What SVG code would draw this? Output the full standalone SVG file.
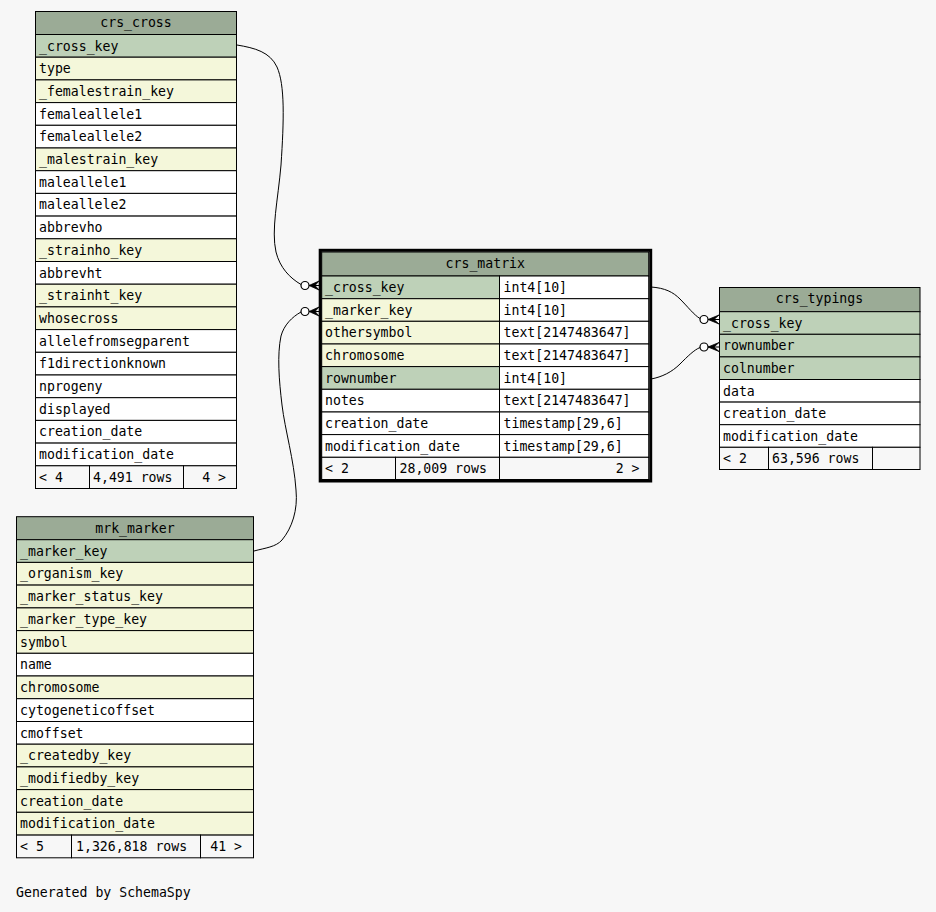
<svg xmlns="http://www.w3.org/2000/svg" width="936" height="912" viewBox="0 0 936 912">
<style>
rect{stroke:#000;stroke-width:1}
.h{fill:#9bab96}.p{fill:#bed1b8}.k{fill:#f4f7da}.w{fill:#ffffff}.f{fill:#f7f7f7}
text{font-family:"DejaVu Sans Mono","Liberation Mono",monospace;font-size:13.2px;fill:#000}
.m{text-anchor:middle}.e{text-anchor:end}
.cn{fill:none;stroke:#000;stroke-width:1}
.o{fill:#fff;stroke:#000;stroke-width:1.2}
.cr{fill:#000;stroke:#000;stroke-width:0.8}
</style>
<rect x="0" y="0" width="936" height="912" style="fill:#f7f7f7;stroke:none"/>

<g id="connectors">
<path class="cn" d="M237,45 C255,48 270,52 277,67 C285,85 284,120 281,165 C278,200 271,230 276,252 C280,268 290,278 301,284.5"/>
<circle class="o" cx="305" cy="285.5" r="4"/>
<polygon class="cr" points="309,285.5 319,281 315,285.5 319,290"/>
<line class="cn" x1="309" y1="285.5" x2="319" y2="285.5"/>

<path class="cn" d="M254,551 C265,548 276,547 282,540 C292,528 298,510 296,490 C294,460 285,430 282,405 C279,380 277,355 281,336 C284,325 292,317 301,312"/>
<circle class="o" cx="305" cy="311.5" r="4"/>
<polygon class="cr" points="309,311.5 319,307 315,311.5 319,316"/>
<line class="cn" x1="309" y1="311.5" x2="319" y2="311.5"/>

<path class="cn" d="M651,287 C665,288 673,292 680,299 C688,307 694,315 700,318.5"/>
<circle class="o" cx="704" cy="319.5" r="4"/>
<polygon class="cr" points="708,319.5 719,315 714,319.5 719,324"/>
<line class="cn" x1="708" y1="319.5" x2="719" y2="319.5"/>

<path class="cn" d="M651,379 C662,377 672,372 680,364 C688,356 694,350 700,347.5"/>
<circle class="o" cx="704" cy="347" r="4"/>
<polygon class="cr" points="708,347 719,342.5 714,347 719,351.5"/>
<line class="cn" x1="708" y1="347" x2="719" y2="347"/>
</g>

<g id="crs_cross">
<rect class="h" x="35.5" y="11.5" width="201" height="23"/>
<rect class="p" x="35.5" y="34.5" width="201" height="22.7"/>
<rect class="k" x="35.5" y="57.2" width="201" height="22.7"/>
<rect class="k" x="35.5" y="79.9" width="201" height="22.7"/>
<rect class="w" x="35.5" y="102.6" width="201" height="22.7"/>
<rect class="w" x="35.5" y="125.3" width="201" height="22.7"/>
<rect class="k" x="35.5" y="148.0" width="201" height="22.7"/>
<rect class="w" x="35.5" y="170.7" width="201" height="22.7"/>
<rect class="w" x="35.5" y="193.4" width="201" height="22.7"/>
<rect class="w" x="35.5" y="216.1" width="201" height="22.7"/>
<rect class="k" x="35.5" y="238.8" width="201" height="22.7"/>
<rect class="w" x="35.5" y="261.5" width="201" height="22.7"/>
<rect class="k" x="35.5" y="284.2" width="201" height="22.7"/>
<rect class="k" x="35.5" y="306.9" width="201" height="22.7"/>
<rect class="w" x="35.5" y="329.6" width="201" height="22.7"/>
<rect class="w" x="35.5" y="352.3" width="201" height="22.7"/>
<rect class="w" x="35.5" y="375.0" width="201" height="22.7"/>
<rect class="w" x="35.5" y="397.7" width="201" height="22.7"/>
<rect class="w" x="35.5" y="420.4" width="201" height="22.7"/>
<rect class="w" x="35.5" y="443.1" width="201" height="22.7"/>
<rect class="f" x="35.5" y="465.8" width="54" height="22.7"/>
<rect class="f" x="89.5" y="465.8" width="94" height="22.7"/>
<rect class="f" x="183.5" y="465.8" width="53" height="22.7"/>
<text class="m" x="136" y="27">crs_cross</text>
<text x="39" y="50.5">_cross_key</text>
<text x="39" y="73.2">type</text>
<text x="39" y="95.9">_femalestrain_key</text>
<text x="39" y="118.6">femaleallele1</text>
<text x="39" y="141.3">femaleallele2</text>
<text x="39" y="164.0">_malestrain_key</text>
<text x="39" y="186.7">maleallele1</text>
<text x="39" y="209.4">maleallele2</text>
<text x="39" y="232.1">abbrevho</text>
<text x="39" y="254.8">_strainho_key</text>
<text x="39" y="277.5">abbrevht</text>
<text x="39" y="300.2">_strainht_key</text>
<text x="39" y="322.9">whosecross</text>
<text x="39" y="345.6">allelefromsegparent</text>
<text x="39" y="368.3">f1directionknown</text>
<text x="39" y="391.0">nprogeny</text>
<text x="39" y="413.7">displayed</text>
<text x="39" y="436.4">creation_date</text>
<text x="39" y="459.1">modification_date</text>
<text x="39" y="481.8">&lt; 4</text>
<text x="93" y="481.8">4,491 rows</text>
<text class="e" x="226" y="481.8">4 &gt;</text>
</g>

<g id="mrk_marker">
<rect class="h" x="16.5" y="516.7" width="237" height="23"/>
<rect class="p" x="16.5" y="539.7" width="237" height="22.7"/>
<rect class="k" x="16.5" y="562.4" width="237" height="22.7"/>
<rect class="k" x="16.5" y="585.1" width="237" height="22.8"/>
<rect class="k" x="16.5" y="607.9" width="237" height="22.7"/>
<rect class="k" x="16.5" y="630.6" width="237" height="22.7"/>
<rect class="w" x="16.5" y="653.3" width="237" height="22.7"/>
<rect class="k" x="16.5" y="676.0" width="237" height="22.7"/>
<rect class="w" x="16.5" y="698.7" width="237" height="22.8"/>
<rect class="w" x="16.5" y="721.5" width="237" height="22.7"/>
<rect class="k" x="16.5" y="744.2" width="237" height="22.7"/>
<rect class="k" x="16.5" y="766.9" width="237" height="22.7"/>
<rect class="k" x="16.5" y="789.6" width="237" height="22.7"/>
<rect class="k" x="16.5" y="812.3" width="237" height="22.8"/>
<rect class="f" x="16.5" y="835.1" width="55" height="22.7"/>
<rect class="f" x="71.5" y="835.1" width="129" height="22.7"/>
<rect class="f" x="200.5" y="835.1" width="53" height="22.7"/>
<text class="m" x="135" y="532.5">mrk_marker</text>
<text x="20" y="555.7">_marker_key</text>
<text x="20" y="578.4">_organism_key</text>
<text x="20" y="601.1">_marker_status_key</text>
<text x="20" y="623.9">_marker_type_key</text>
<text x="20" y="646.6">symbol</text>
<text x="20" y="669.3">name</text>
<text x="20" y="692.0">chromosome</text>
<text x="20" y="714.7">cytogeneticoffset</text>
<text x="20" y="737.5">cmoffset</text>
<text x="20" y="760.2">_createdby_key</text>
<text x="20" y="782.9">_modifiedby_key</text>
<text x="20" y="805.6">creation_date</text>
<text x="20" y="828.3">modification_date</text>
<text x="20" y="851.1">&lt; 5</text>
<text x="76" y="851.1">1,326,818 rows</text>
<text class="e" x="242" y="851.1">41 &gt;</text>
</g>

<g id="crs_matrix">
<rect class="h" x="321.7" y="252" width="327" height="24"/>
<rect class="p" x="321.7" y="276" width="177.8" height="22.7"/>
<rect class="w" x="499.5" y="276" width="149.2" height="22.7"/>
<rect class="k" x="321.7" y="298.7" width="177.8" height="22.6"/>
<rect class="w" x="499.5" y="298.7" width="149.2" height="22.6"/>
<rect class="k" x="321.7" y="321.3" width="177.8" height="22.7"/>
<rect class="w" x="499.5" y="321.3" width="149.2" height="22.7"/>
<rect class="k" x="321.7" y="344.0" width="177.8" height="22.6"/>
<rect class="w" x="499.5" y="344.0" width="149.2" height="22.6"/>
<rect class="p" x="321.7" y="366.6" width="177.8" height="22.7"/>
<rect class="w" x="499.5" y="366.6" width="149.2" height="22.7"/>
<rect class="w" x="321.7" y="389.3" width="177.8" height="22.7"/>
<rect class="w" x="499.5" y="389.3" width="149.2" height="22.7"/>
<rect class="w" x="321.7" y="412.0" width="177.8" height="22.6"/>
<rect class="w" x="499.5" y="412.0" width="149.2" height="22.6"/>
<rect class="w" x="321.7" y="434.6" width="177.8" height="22.7"/>
<rect class="w" x="499.5" y="434.6" width="149.2" height="22.7"/>
<rect class="f" x="321.7" y="457.3" width="73.8" height="22.2"/>
<rect class="f" x="395.5" y="457.3" width="104" height="22.2"/>
<rect class="f" x="499.5" y="457.3" width="149.2" height="22.2"/>
<rect x="320.2" y="250.3" width="330.5" height="230.7" style="fill:none;stroke-width:3"/>
<text class="m" x="485.3" y="268">crs_matrix</text>
<text x="325" y="292">_cross_key</text>
<text x="503.5" y="292">int4[10]</text>
<text x="325" y="314.7">_marker_key</text>
<text x="503.5" y="314.7">int4[10]</text>
<text x="325" y="337.3">othersymbol</text>
<text x="503.5" y="337.3">text[2147483647]</text>
<text x="325" y="360.0">chromosome</text>
<text x="503.5" y="360.0">text[2147483647]</text>
<text x="325" y="382.6">rownumber</text>
<text x="503.5" y="382.6">int4[10]</text>
<text x="325" y="405.3">notes</text>
<text x="503.5" y="405.3">text[2147483647]</text>
<text x="325" y="428.0">creation_date</text>
<text x="503.5" y="428.0">timestamp[29,6]</text>
<text x="325" y="450.6">modification_date</text>
<text x="503.5" y="450.6">timestamp[29,6]</text>
<text x="325" y="473.3">&lt; 2</text>
<text x="399.5" y="473.3">28,009 rows</text>
<text class="e" x="639.5" y="473.3">2 &gt;</text>
</g>

<g id="crs_typings">
<rect class="h" x="719.5" y="287.5" width="200.5" height="24.2"/>
<rect class="p" x="719.5" y="311.7" width="200.5" height="22.6"/>
<rect class="p" x="719.5" y="334.3" width="200.5" height="22.6"/>
<rect class="p" x="719.5" y="356.9" width="200.5" height="22.6"/>
<rect class="w" x="719.5" y="379.5" width="200.5" height="22.6"/>
<rect class="w" x="719.5" y="402.1" width="200.5" height="22.6"/>
<rect class="w" x="719.5" y="424.7" width="200.5" height="22.6"/>
<rect class="f" x="719.5" y="447.3" width="49" height="22.2"/>
<rect class="f" x="768.5" y="447.3" width="104" height="22.2"/>
<rect class="f" x="872.5" y="447.3" width="47.5" height="22.2"/>
<text class="m" x="819.5" y="303.3">crs_typings</text>
<text x="723" y="327.7">_cross_key</text>
<text x="723" y="350.3">rownumber</text>
<text x="723" y="372.9">colnumber</text>
<text x="723" y="395.5">data</text>
<text x="723" y="418.1">creation_date</text>
<text x="723" y="440.7">modification_date</text>
<text x="723" y="463.3">&lt; 2</text>
<text x="772" y="463.3">63,596 rows</text>
</g>

<text x="16" y="897">Generated by SchemaSpy</text>
</svg>
